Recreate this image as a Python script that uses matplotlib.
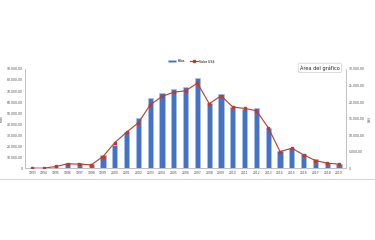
import matplotlib.pyplot as plt
import numpy as np
from matplotlib.ticker import FuncFormatter

# data
years = [str(y) for y in range(1993, 2020)]
kilos = [300, 200, 1200, 5200, 5000, 4300, 12500, 21600, 33400, 45300,
         64100, 68100, 72000, 73200, 81800, 59500, 67200, 55300, 53500, 55000,
         36700, 15500, 18500, 12800, 8200, 4800, 3900]
valor = [100, 100, 600, 1400, 1300, 1100, 3600, 7800, 10950, 13800,
         19200, 21700, 23000, 23400, 25700, 19500, 21900, 18500, 18100, 17400,
         12300, 5100, 6100, 4100, 2400, 1600, 1300]

label_bar = 'Kilos'
label_line = 'Valor US$'


def es_fmt(v, pos):
    if v == 0:
        return '0'
    return '{:,.2f}'.format(v).replace(',', 'X').replace('.', ',').replace('X', '.')


fig = plt.figure(figsize=(3.75, 2.4), dpi=100)
ax1 = fig.add_axes([0.067, 0.298, 0.856, 0.415])
ax2 = ax1.twinx()

x = np.arange(len(years))
ax1.bar(x, kilos, width=0.45, color='#4472C4', edgecolor='#A9C4EB',
        linewidth=0.4, label=label_bar, zorder=2)
ax2.plot(x, valor, color='#C0392B', linewidth=0.8, marker='s',
         markersize=1.5, label=label_line, zorder=3)

ax1.set_xlim(-0.6, len(years) - 0.4)
ax1.set_ylim(0, 90000)
ax2.set_ylim(0, 30000)
ax1.set_yticks(np.arange(0, 90001, 10000))
ax2.set_yticks(np.arange(0, 30001, 5000))
ax1.yaxis.set_major_formatter(FuncFormatter(es_fmt))
ax2.yaxis.set_major_formatter(FuncFormatter(es_fmt))
ax1.set_xticks(x)
ax1.set_xticklabels(years)

for ax in (ax1, ax2):
    ax.tick_params(labelsize=2.2, length=0, pad=2, colors='#444444')
    ax.spines['top'].set_visible(False)
    for s in ('left', 'right', 'bottom'):
        ax.spines[s].set_color('#BBBBBB')
        ax.spines[s].set_linewidth(0.5)

ax1.set_ylabel('Kilos', fontsize=2.2, labelpad=2, color='#444444')
ax2.set_ylabel('US$', fontsize=2.2, labelpad=2, color='#444444')

h1, l1 = ax1.get_legend_handles_labels()
h2, l2 = ax2.get_legend_handles_labels()
fig.legend(h1 + h2, l1 + l2, loc='center', bbox_to_anchor=(0.51, 0.745),
           ncol=2, fontsize=2.3, frameon=False, handlelength=2.5,
           columnspacing=1.5, handletextpad=0.4)

# tooltip box
fig.text(0.853, 0.717, 'Área del gráfico', fontsize=3.6, ha='center',
         va='center', color='#222222',
         bbox=dict(boxstyle='round,pad=0.35', fc='white', ec='#CCCCCC',
                   lw=0.5))

# chart area bottom border
fig.add_artist(plt.Line2D([0, 1], [0.255, 0.255], color='#CCCCCC',
                          linewidth=0.6))

fig.savefig('out.png', dpi=100)
